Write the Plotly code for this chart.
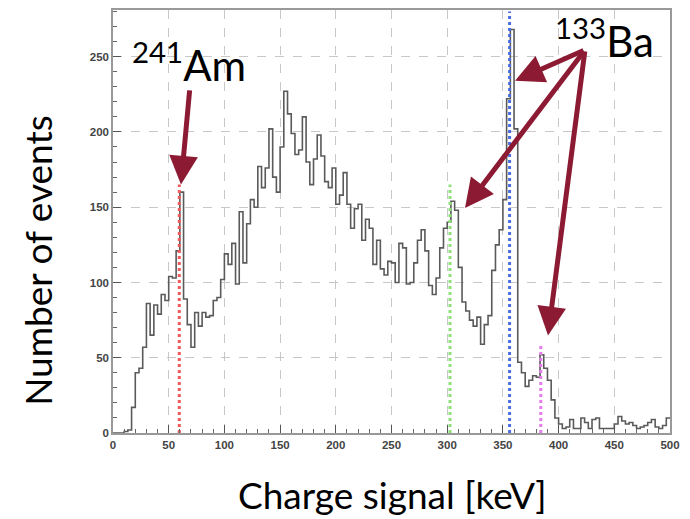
import plotly.graph_objects as go

# ---------------- data ----------------
bin_width = 10.0 / 3.0          # keV per bin (150 bins over 0-500 keV)
x_start = 0.0
counts = [
    0, 0, 0, 1, 2, 17, 40, 43, 57, 86,
    65, 85, 79, 92, 88, 104, 103, 121, 160, 89,
    72, 57, 80, 71, 80, 77, 78, 88, 90, 102,
    119, 112, 126, 99, 147, 113, 139, 155, 150, 177,
    163, 176, 202, 170, 160, 190, 227, 212, 199, 185,
    188, 210, 180, 165, 182, 198, 184, 167, 163, 176,
    152, 158, 173, 152, 136, 149, 152, 128, 142, 136,
    112, 128, 109, 105, 114, 113, 100, 126, 123, 99,
    100, 113, 128, 135, 121, 98, 92, 103, 123, 136,
    140, 154, 148, 110, 87, 81, 75, 71, 77, 59,
    72, 78, 108, 125, 135, 155, 222, 268, 202, 47,
    40, 31, 35, 38, 37, 52, 43, 35, 22, 10,
    6, 3, 4, 9, 3, 3, 10, 7, 3, 9,
    10, 3, 3, 3, 3, 6, 11, 8, 6, 7,
    5, 3, 4, 5, 7, 9, 4, 3, 5, 10,
]

line_energies = [59.5, 302.5, 356.0, 384.0]
line_tops = [165, 165, 280, 58]
line_colors = ["#f05a5a", "#8ee07a", "#4a6ee0", "#e77be7"]

x_ticks = [0, 50, 100, 150, 200, 250, 300, 350, 400, 450, 500]
y_ticks = [0, 50, 100, 150, 200, 250]

x_title = "Charge signal [keV]"
y_title = "Number of events"

# ---------------- figure ----------------
n = len(counts)
edges = [x_start + i * bin_width for i in range(n + 1)]
hy = counts + [counts[-1]]

fig = go.Figure()
fig.add_trace(go.Scatter(x=edges, y=hy, mode="lines", line_shape="hv",
                         line=dict(color="#5a5a5a", width=1.6),
                         showlegend=False, hoverinfo="skip"))

for e, t, c in zip(line_energies, line_tops, line_colors):
    fig.add_trace(go.Scatter(x=[e, e], y=[0, t], mode="lines",
                             line=dict(color=c, width=3, dash="dot"),
                             showlegend=False, hoverinfo="skip"))

arrow_color = "#8c1a33"
# arrows: (tip_x, tip_y, tail_x, tail_y) in data units
arrows = [
    (61.0, 165.0, 68.9, 228.6),
    (360.9, 234.0, 423.7, 254.5),
    (316.0, 149.4, 423.7, 254.5),
    (390.5, 64.8, 423.7, 254.5),
]
for tx, ty, sx, sy in arrows:
    fig.add_annotation(x=tx, y=ty, ax=sx, ay=sy, xref="x", yref="y",
                       axref="x", ayref="y", showarrow=True, text="",
                       arrowhead=2, arrowsize=1.15, arrowwidth=5,
                       arrowcolor=arrow_color, standoff=0)

fig.add_annotation(x=0.03, y=0.878, xref="paper", yref="paper", showarrow=False,
                   text="<sup>241</sup>Am", xanchor="left", yanchor="middle",
                   font=dict(family="Lato", size=42, color="black"))
fig.add_annotation(x=0.79, y=0.934, xref="paper", yref="paper", showarrow=False,
                   text="<sup>133</sup>Ba", xanchor="left", yanchor="middle",
                   font=dict(family="Lato", size=42, color="black"))

fig.add_annotation(x=-0.1346, y=0.407, xref="paper", yref="paper", showarrow=False,
                   text=y_title, textangle=-90, xanchor="center", yanchor="middle",
                   font=dict(family="Lato", size=37, color="black"))
fig.add_annotation(x=0.501, y=-0.146, xref="paper", yref="paper", showarrow=False,
                   text=x_title, xanchor="center", yanchor="middle",
                   font=dict(family="Lato", size=37, color="black"))

axis_common = dict(
    ticks="inside", ticklen=8, tickcolor="#555", showgrid=True,
    gridcolor="#c8c8c8", griddash="dash", gridwidth=1, zeroline=False,
    showline=True, mirror=True, linecolor="#999", linewidth=1.5,
    tickfont=dict(family="Liberation Sans", size=11.5, color="#444", weight="bold"),
    minor=dict(dtick=10, ticks="inside", ticklen=4, tickcolor="#666", showgrid=False),
)

fig.update_layout(
    width=690, height=519,
    margin=dict(l=105, r=28, t=0, b=94),
    paper_bgcolor="white", plot_bgcolor="white",
    xaxis=dict(range=[0, 500], tickvals=x_ticks, **axis_common),
    yaxis=dict(range=[0, 281], tickvals=y_ticks, **axis_common),
)

fig.write_html("out.html")
